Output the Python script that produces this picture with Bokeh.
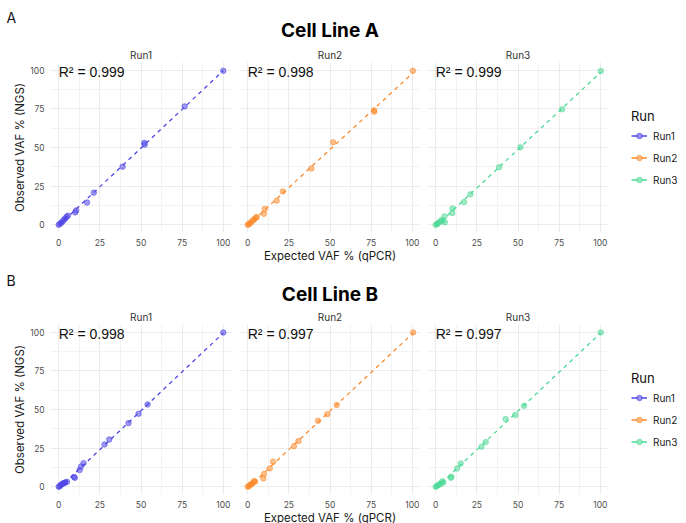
import numpy as np
from bokeh.plotting import figure
from bokeh.layouts import column, row
from bokeh.models import Range1d, FixedTicker, Label, Legend, LegendItem
from bokeh.core.properties import value
from bokeh.embed import file_html
from bokeh.resources import INLINE

# ---------------- data ----------------
runs = ["Run1", "Run2", "Run3"]
run_colors = ["#4F46E5", "#FB8A2C", "#4CD995"]
cell_lines = ["Cell Line A", "Cell Line B"]
panel_tags = ["A", "B"]
tick_values = [0, 25, 50, 75, 100]
minor_values = [12.5, 37.5, 62.5, 87.5]
x_title = "Expected VAF % (qPCR)"
y_title = "Observed VAF % (NGS)"

a_run1_x = [0.0, 0.8, 1.6, 2.4, 3.2, 4.0, 4.8, 5.6, 10.0, 10.6, 17.2, 21.3, 38.8, 52.0, 52.2, 76.5, 100.0]
a_run1_y = [0.0, 0.6, 1.4, 2.2, 3.3, 4.1, 5.2, 5.9, 8.0, 9.3, 14.4, 20.8, 37.6, 53.0, 51.8, 76.6, 99.6]
a_run2_x = [0.0, 0.7, 1.3, 2.1, 3.1, 3.9, 4.9, 5.5, 9.8, 10.3, 17.6, 21.3, 38.7, 51.9, 76.8, 76.9, 100.4]
a_run2_y = [0.0, 0.3, 1.0, 1.6, 2.8, 3.5, 4.5, 5.0, 7.1, 10.2, 15.6, 21.6, 36.4, 53.4, 74.1, 73.2, 99.6]
a_run3_x = [0.0, 0.8, 1.4, 2.3, 3.4, 4.2, 5.3, 5.5, 10.1, 10.2, 17.2, 21.1, 38.5, 51.5, 76.8, 100.3]
a_run3_y = [0.0, 0.4, 1.0, 1.8, 3.0, 2.6, 5.4, 1.6, 7.6, 10.6, 14.7, 19.7, 37.2, 50.2, 74.7, 99.5]

b_run1_x = [0.0, 0.6, 1.3, 2.0, 2.6, 3.4, 4.0, 5.0, 9.3, 9.8, 12.7, 13.5, 15.1, 27.8, 30.7, 42.4, 48.5, 54.0, 100.0]
b_run1_y = [0.0, 0.3, 1.3, 1.6, 2.2, 2.5, 2.8, 3.2, 6.3, 5.8, 10.8, 13.1, 15.3, 27.4, 30.6, 41.2, 47.2, 53.3, 99.8]
b_run2_x = [0.0, 0.7, 1.5, 2.2, 2.9, 3.9, 4.5, 9.5, 9.9, 13.4, 15.4, 28.1, 30.8, 42.7, 48.4, 54.1, 100.5]
b_run2_y = [0.0, 0.4, 1.3, 1.7, 2.2, 3.7, 3.3, 5.4, 8.2, 11.9, 16.2, 26.3, 29.6, 42.7, 47.0, 52.9, 99.9]
b_run3_x = [0.0, 0.6, 1.5, 2.2, 3.0, 4.0, 4.6, 9.2, 9.5, 13.0, 15.2, 27.8, 30.4, 42.4, 48.4, 53.7, 100.3]
b_run3_y = [0.0, 0.5, 1.0, 1.6, 2.0, 3.6, 2.8, 5.8, 6.5, 11.8, 15.1, 25.9, 28.9, 43.8, 46.4, 52.4, 99.9]

r2_a = ["0.999", "0.998", "0.999"]
r2_b = ["0.998", "0.997", "0.997"]

data_a = [(a_run1_x, a_run1_y), (a_run2_x, a_run2_y), (a_run3_x, a_run3_y)]
data_b = [(b_run1_x, b_run1_y), (b_run2_x, b_run2_y), (b_run3_x, b_run3_y)]

# ---------------- layout constants ----------------
W = 686
FRAME_W = 181
FRAME_H = 170
TOP = 17
BOTTOM = 30
LEFTS = [50, 4, 4]
RIGHTS = [4, 3, 0]
LEG_W = W - (sum(LEFTS) + sum(RIGHTS) + 3 * FRAME_W)
FONT = "Inter"
GRID_COLOR = "#EBEBEB"


def make_ticker():
    return FixedTicker(ticks=tick_values, minor_ticks=minor_values)


def style_axis(ax):
    ax.axis_line_color = None
    ax.major_tick_line_color = None
    ax.minor_tick_line_color = None
    ax.major_tick_out = 0
    ax.major_tick_in = 0
    ax.minor_tick_out = 0
    ax.minor_tick_in = 0
    ax.major_label_text_font = FONT
    ax.major_label_text_color = "#4D4D4D"
    ax.major_label_text_font_size = "8.5px"
    ax.major_label_standoff = 6
    ax.axis_label_text_font = FONT
    ax.axis_label_text_font_size = "11.5px"
    ax.axis_label_text_font_style = "normal"
    ax.axis_label_text_color = "#1A1A1A"
    ax.axis_label_standoff = 0


def make_panel(xs, ys, color, run, r2, col):
    first = col == 0
    p = figure(frame_width=FRAME_W, frame_height=FRAME_H,
               x_range=Range1d(-5, 105), y_range=Range1d(-5, 105),
               min_border_left=LEFTS[col], min_border_right=RIGHTS[col],
               min_border_top=TOP, min_border_bottom=BOTTOM,
               toolbar_location=None, tools="", output_backend="svg",
               title=run)
    p.outline_line_color = None
    p.background_fill_color = "white"
    p.border_fill_color = "white"
    p.title.align = "center"
    p.title.text_font = FONT
    p.title.text_font_size = "10px"
    p.title.text_font_style = "normal"
    p.title.text_color = "#333333"
    p.title.standoff = 3

    xt = make_ticker()
    p.xaxis.ticker = xt
    p.xgrid.ticker = xt
    # inner panels carry no y labels: their axis gets no ticks, the grid keeps its own
    p.yaxis.ticker = make_ticker() if first else FixedTicker(ticks=[], minor_ticks=[])
    p.ygrid.ticker = make_ticker()
    for g in list(p.xgrid) + list(p.ygrid):
        g.grid_line_color = GRID_COLOR
        g.grid_line_width = 1.1
        g.minor_grid_line_color = GRID_COLOR
        g.minor_grid_line_width = 0.6

    for ax in list(p.xaxis) + list(p.yaxis):
        style_axis(ax)
    if not first:
        p.yaxis.major_label_standoff = 0
    if first:
        p.yaxis.axis_label = y_title
    if col == 1:
        p.xaxis.axis_label = x_title

    p.scatter(xs, ys, size=5.5, color=color, alpha=0.55, line_alpha=0.55)
    fit = np.polyfit(xs, ys, 1)
    xl = np.array([min(xs), max(xs)])
    p.line(xl, np.polyval(fit, xl), line_color=color, line_width=1.3, line_dash="4 4")
    p.text(x=[0], y=[99], text=["R\u00b2 = " + r2], text_font=value("Liberation Sans"),
           text_font_size="14px", text_baseline="middle", text_align="left",
           text_color="#111111")
    return p


def make_legend_fig():
    lg = figure(frame_width=LEG_W, frame_height=FRAME_H,
                x_range=Range1d(0, 1), y_range=Range1d(0, 1),
                min_border_left=0, min_border_right=0,
                min_border_top=TOP, min_border_bottom=BOTTOM,
                x_axis_location=None, y_axis_location=None,
                toolbar_location=None, tools="", output_backend="svg")
    lg.outline_line_color = None
    lg.grid.visible = False
    items = []
    for run, color in zip(runs, run_colors):
        # off-frame placeholder glyphs so that the legend can draw its keys
        lr = lg.line(x=[-3, -2], y=[-3, -2], line_color=color, line_width=1.3, line_dash="6 4")
        sr = lg.scatter(x=[-3], y=[-3], size=6, color=color, alpha=0.6)
        items.append(LegendItem(label=run, renderers=[lr, sr]))
    legend = Legend(items=items, location="center_left", title="Run",
                    title_text_font=FONT, title_text_font_size="13px",
                    title_text_font_style="normal",
                    title_text_color="#111111", title_standoff=5,
                    label_text_font=FONT, label_text_font_size="10px",
                    label_text_color="#1A1A1A", label_height=14,
                    glyph_width=16, glyph_height=14, spacing=8,
                    label_standoff=6, padding=1, margin=23,
                    border_line_color=None, background_fill_alpha=0)
    lg.add_layout(legend)
    return lg


def make_header(h, tag, title, tag_y, title_y):
    hp = figure(width=W, height=h, x_range=Range1d(0, W), y_range=Range1d(h, 0),
                x_axis_location=None, y_axis_location=None, min_border=0,
                toolbar_location=None, tools="", output_backend="svg")
    hp.outline_line_color = None
    hp.grid.visible = False
    hp.add_layout(Label(x=6, y=tag_y, text=tag, text_font=FONT, text_font_size="14px",
                        text_baseline="middle", text_align="left", text_color="#111111"))
    mid = LEFTS[0] + FRAME_W + RIGHTS[0] + LEFTS[1] + FRAME_W / 2
    hp.add_layout(Label(x=mid, y=title_y, text=title, text_font=FONT,
                        text_font_size="19px", text_font_style="bold",
                        text_baseline="middle", text_align="center", text_color="black"))
    return hp


def make_row(dataset, r2s):
    figs = [make_panel(xs, ys, run_colors[i], runs[i], r2s[i], i)
            for i, (xs, ys) in enumerate(dataset)]
    figs.append(make_legend_fig())
    return row(*figs)


layout = column(
    make_header(45, panel_tags[0], cell_lines[0], 17, 30),
    make_row(data_a, r2_a),
    make_header(42, panel_tags[1], cell_lines[1], 15, 29),
    make_row(data_b, r2_b),
)

open("out.html", "w").write(file_html(layout, INLINE))
